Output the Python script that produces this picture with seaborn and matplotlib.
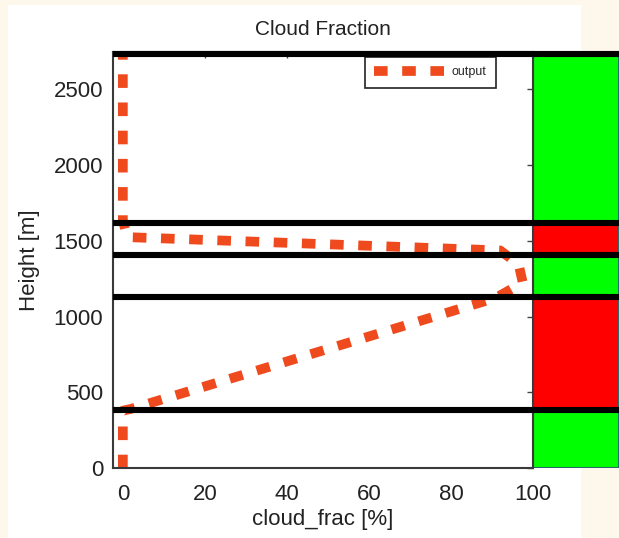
import matplotlib
matplotlib.use("Agg")
import matplotlib.pyplot as plt
import seaborn as sns
import pandas as pd
from matplotlib.patches import Rectangle

# ---- data ----
cloud_frac = [0, 0, 2, 91, 97.5, 96.5, 92, 1, 0, 0]
height_m = [0, 380, 392, 1125, 1225, 1345, 1437, 1525, 1640, 2760]
series_label = "output"

band_edges = [0, 385, 1130, 1404, 1621, 2736]
band_colors = ["#00ff00", "#ff0000", "#00ff00", "#ff0000", "#00ff00"]
divider_heights = [385, 1130, 1404, 1621, 2736]

x_ticks = [0, 20, 40, 60, 80, 100]
y_ticks = [0, 500, 1000, 1500, 2000, 2500]

title = "Cloud Fraction"
x_label = "cloud_frac [%]"
y_label = "Height [m]"

# ---- style ----
sns.set_theme(style="white")
plt.rcParams["font.family"] = ["Liberation Sans", "DejaVu Sans"]
TXT = "#222222"

W, H = 619, 538
fig = plt.figure(figsize=(W / 100, H / 100), dpi=100, facecolor="#fef8ec")

# white screenshot area
fig.add_artist(Rectangle((8 / W, 0), 573 / W, (H - 5) / H, transform=fig.transFigure,
                         facecolor="white", edgecolor="none", zorder=0))

ax_l, ax_r, ax_t, ax_b = 113, 533, 52, 468.3
ax = fig.add_axes([ax_l / W, (H - ax_b) / H, (ax_r - ax_l) / W, (ax_b - ax_t) / H])
ax.set_zorder(3)
ax.set_facecolor("white")

df = pd.DataFrame({"cloud_frac": cloud_frac, "height": height_m})
sns.lineplot(data=df, x="cloud_frac", y="height", sort=False, estimator=None,
             ax=ax, color="#ee4a1e", lw=7, legend=False)
line = ax.lines[0]
line.set_dashes([1.4, 1.5])
line.set_dash_capstyle("butt")

ax.set_xlim(-2.4, 100)
ax.set_ylim(0, 2746)
ax.set_xticks(x_ticks)
ax.set_yticks(y_ticks)
ax.tick_params(direction="in", top=True, right=True, length=4, width=1,
               colors="#444444", labelcolor=TXT, labelsize=16)
ax.tick_params(axis="x", pad=11)
ax.tick_params(axis="y", pad=7)
for s in ax.spines.values():
    s.set_visible(True)
    s.set_color("#3a3a3a")
    s.set_linewidth(1.5)

ax.set_title(title, fontsize=15, color=TXT, pad=12)
ax.set_xlabel(x_label, fontsize=16, color=TXT, labelpad=3)
ax.set_ylabel(y_label, fontsize=16, color=TXT, labelpad=10)

leg = ax.legend(handles=[line], labels=[series_label], loc="upper right",
                bbox_to_anchor=((496 - ax_l) / (ax_r - ax_l), (ax_b - 57) / (ax_b - ax_t)),
                borderaxespad=0, frameon=True, fancybox=False, framealpha=1,
                edgecolor="#222222", fontsize=9, handlelength=5.7,
                handletextpad=0.5, borderpad=0.75)
leg.get_frame().set_linewidth(1.2)

# right coloured panel
ax2 = fig.add_axes([ax_r / W, (H - ax_b) / H, (W - ax_r) / W, (ax_b - ax_t) / H])
ax2.set_zorder(1)
ax2.set_ylim(ax.get_ylim())
ax2.set_xlim(0, 1)
ax2.axis("off")
for lo, hi, c in zip(band_edges[:-1], band_edges[1:], band_colors):
    ax2.axhspan(lo, hi, xmin=0, xmax=1, facecolor=c, edgecolor="#2a6a6a", lw=1.5)

# black dividers running across the plot and the panel
for y in divider_heights:
    ax.axhline(y, xmin=0, xmax=(W - ax_l) / (ax_r - ax_l), color="black", lw=4.4,
               solid_capstyle="butt", clip_on=False, zorder=6)

fig.savefig("out.png", dpi=100, facecolor=fig.get_facecolor())
